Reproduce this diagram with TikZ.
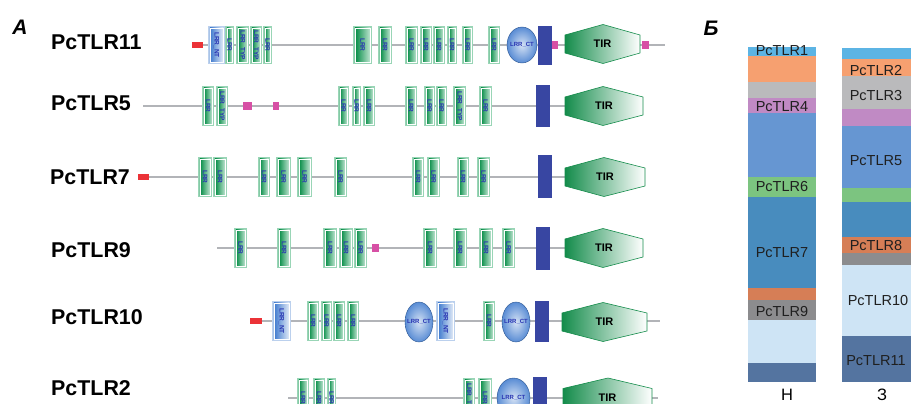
\documentclass[tikz,border=0pt]{standalone}
\usepackage{fontspec}
\setmainfont{Liberation Sans}
\definecolor{lrrg}{RGB}{0,150,72}
\definecolor{ntb}{RGB}{60,120,205}
\definecolor{tmb}{RGB}{56,70,162}
\definecolor{tirg}{RGB}{20,140,75}
\definecolor{sigred}{RGB}{235,50,55}
\definecolor{lowc}{RGB}{215,80,165}
\definecolor{bbgray}{RGB}{178,180,184}
\definecolor{dtext}{RGB}{40,52,178}
% stacked bar colours
\definecolor{cA}{RGB}{92,180,228}
\definecolor{cB}{RGB}{246,160,112}
\definecolor{cC}{RGB}{186,186,188}
\definecolor{cD}{RGB}{192,138,196}
\definecolor{cE}{RGB}{102,150,210}
\definecolor{cF}{RGB}{124,196,128}
\definecolor{cG}{RGB}{72,140,190}
\definecolor{cH}{RGB}{214,126,86}
\definecolor{cI}{RGB}{140,140,142}
\definecolor{cJ}{RGB}{206,228,245}
\definecolor{cK}{RGB}{84,116,160}

\tikzset{
  bb/.style={draw=bbgray, line width=2.6pt},
  dlab/.style={font=\fontsize{6.5}{6.5}\selectfont\bfseries, text=dtext, inner sep=0pt},
  rowlab/.style={font=\fontsize{21.4}{21.4}\selectfont\bfseries, anchor=west, inner sep=0pt},
  barlab/.style={font=\fontsize{14.5}{15}\selectfont, text=black!88, inner sep=0pt},
  panlab/.style={font=\fontsize{21}{21}\selectfont\bfseries\itshape, inner sep=0pt},
  tirlab/.style={font=\fontsize{11}{11}\selectfont\bfseries, inner sep=0pt},
}

% half height of the domain boxes of the current row
\def\hh{20}

% leucine-rich repeat box: [text]{x1}{x2}{y centre}
\newcommand\lrrbox[4][LRR]{%
  \fill[lrrg!40] (#2,#4-\hh) rectangle (#3,#4+\hh);
  \shadedraw[draw=white, line width=0.5pt, left color=lrrg!92!black, right color=lrrg!25]
    (#2+1.8,#4-\hh+1.8) rectangle (#3-1.8,#4+\hh-1.8);
  \node[dlab, rotate=-90] at ({(#2+#3)/2},#4) {#1};}
% N-terminal cap box
\newcommand\ntbox[3]{%
  \fill[ntb!35] (#1,#3-\hh) rectangle (#2,#3+\hh);
  \shadedraw[draw=white, line width=0.5pt, left color=ntb, right color=ntb!15]
    (#1+1.8,#3-\hh+1.8) rectangle (#2-1.8,#3+\hh-1.8);
  \node[dlab, rotate=-90] at ({(#1+#2)/2},#3) {LRR\_NT};}
% C-terminal cap ellipse: {cx}{cy}{rx}{ry}
\newcommand\ctell[4]{%
  \shadedraw[draw=ntb!70!black, line width=0.4pt, inner color=ntb!22, outer color=ntb!85]
    (#1,#2) ellipse [x radius=#3pt, y radius=#4pt];
  \node[dlab, font=\fontsize{6}{6}\selectfont\bfseries] at (#1,#2) {LRR\_CT};}
% transmembrane segment
\newcommand\tmbox[4]{\fill[tmb] (#1,#3) rectangle (#2,#4);}
% TIR domain: {x left}{x apex}{x right}{y centre}
\newcommand\tirhex[4]{%
  \shadedraw[draw=tirg, line width=0.6pt, left color=tirg, right color=white]
    (#1,#4-9) -- (#2,#4-19.5) -- (#3,#4-9) -- (#3,#4+9) -- (#2,#4+19.5) -- (#1,#4+9) -- cycle;
  \node[tirlab] at ({(#1+#3)/2},#4) {TIR};}
% signal peptide and low complexity segments
\newcommand\sigpep[3]{\fill[sigred] (#1,#3-3.2) rectangle (#2,#3+3.2);}
\newcommand\lowcx[3]{\fill[lowc] (#1,#3-3.6) rectangle (#2,#3+3.6);}

\begin{document}
\begin{tikzpicture}[x=1pt, y=-1pt]
\useasboundingbox (0,0) rectangle (911,404);
\clip (0,0) rectangle (911,404);
\fill[white] (0,0) rectangle (911,404);

% ---------- panel A: domain architecture ----------
\node[panlab] (pa) at (20,27) {А};

% PcTLR11
\node[rowlab] (r11) at (51,42) {PcTLR11};
\def\hh{19}
\sigpep{192}{203}{45}
\draw[bb] (203,45) -- (665,45);
\ntbox{208}{225}{45}
\lrrbox{225}{234}{45}
\lrrbox[LRR\_TYP]{236}{249}{45}
\lrrbox[LRR\_TYP]{250}{262}{45}
\lrrbox{263}{272}{45}
\lrrbox{353}{372}{45}
\lrrbox{378}{392}{45}
\lrrbox{405}{418}{45}
\lrrbox{420}{432}{45}
\lrrbox{433}{445}{45}
\lrrbox{447}{457}{45}
\lrrbox{462}{473}{45}
\lrrbox{488}{500}{45}
\ctell{522}{45}{15}{18}
\tmbox{538}{552}{26}{65}
\lowcx{552}{558}{45}
\tirhex{565}{603}{640}{44}
\lowcx{642}{649}{45}

% PcTLR5
\node[rowlab] (r5) at (51,103) {PcTLR5};
\def\hh{20}
\draw[bb] (143,106) -- (620,106);
\lrrbox{202}{214}{106}
\lrrbox[LRR\_TYP]{216}{228}{106}
\lowcx{243}{252}{106}
\lowcx{273}{279}{106}
\lrrbox{338}{349}{106}
\lrrbox{352}{361}{106}
\lrrbox{363}{375}{106}
\lrrbox{405}{417}{106}
\lrrbox{424}{435}{106}
\lrrbox{436}{447}{106}
\lrrbox[LRR\_TYP]{453}{466}{106}
\lrrbox{479}{492}{106}
\tmbox{536}{550}{85}{127}
\tirhex{565}{603}{643}{106}

% PcTLR7
\node[rowlab] (r7) at (50,177) {PcTLR7};
\sigpep{138}{149}{177}
\draw[bb] (149,177) -- (620,177);
\lrrbox{198}{212}{177}
\lrrbox{213}{227}{177}
\lrrbox{258}{270}{177}
\lrrbox{276}{291}{177}
\lrrbox{297}{312}{177}
\lrrbox{334}{347}{177}
\lrrbox{412}{424}{177}
\lrrbox{427}{440}{177}
\lrrbox{457}{469}{177}
\lrrbox{477}{490}{177}
\tmbox{538}{552}{155}{198}
\tirhex{565}{604}{645}{177}

% PcTLR9
\node[rowlab] (r9) at (51,250) {PcTLR9};
\draw[bb] (217,248) -- (620,248);
\lrrbox{234}{247}{248}
\lrrbox{277}{291}{248}
\lrrbox{323}{337}{248}
\lrrbox{339}{353}{248}
\lrrbox{354}{367}{248}
\lowcx{372}{379}{248}
\lrrbox{423}{437}{248}
\lrrbox{453}{467}{248}
\lrrbox{479}{493}{248}
\lrrbox{502}{515}{248}
\tmbox{536}{550}{227}{270}
\tirhex{565}{603}{643}{248}

% PcTLR10
\node[rowlab] (r10) at (51,317) {PcTLR10};
\sigpep{250}{262}{321}
\draw[bb] (262,321) -- (660,321);
\ntbox{272}{291}{321}
\lrrbox{307}{319}{321}
\lrrbox{321}{332}{321}
\lrrbox{333}{345}{321}
\lrrbox{347}{359}{321}
\ctell{419}{322}{14}{20}
\ntbox{436}{455}{321}
\lrrbox{483}{495}{321}
\ctell{516}{322}{14}{20}
\tmbox{535}{549}{301}{342}
\tirhex{562}{603}{647}{322}

% PcTLR2
\node[rowlab] (r2) at (51,388) {PcTLR2};
\draw[bb] (288,398) -- (658,398);
\lrrbox{297}{309}{398}
\lrrbox{313}{325}{398}
\lrrbox{327}{336}{398}
\lrrbox[LRR\_TYP]{463}{475}{398}
\lrrbox{478}{492}{398}
\ctell{513.5}{398}{16.5}{20}
\tmbox{533}{547}{377}{420}
\tirhex{563}{608}{652}{397.5}

% ---------- panel B: stacked bars ----------
\node[panlab] (pb) at (711,28) {Б};

% left bar
\fill[cA] (748,47) rectangle (816,56);
\fill[cB] (748,56) rectangle (816,82);
\fill[cC] (748,82) rectangle (816,98);
\fill[cD] (748,98) rectangle (816,113);
\fill[cE] (748,113) rectangle (816,177);
\fill[cF] (748,177) rectangle (816,197);
\fill[cG] (748,197) rectangle (816,288);
\fill[cH] (748,288) rectangle (816,300);
\fill[cI] (748,300) rectangle (816,320);
\fill[cJ] (748,320) rectangle (816,363);
\fill[cK] (748,363) rectangle (816,382);
\node[barlab] (l1) at (782,51) {PcTLR1};
\node[barlab] (l4) at (782,107) {PcTLR4};
\node[barlab] (l6) at (782,187) {PcTLR6};
\node[barlab] (l7) at (782,253) {PcTLR7};
\node[barlab] (l9) at (782,312) {PcTLR9};
\node[font=\fontsize{16.5}{17}\selectfont, inner sep=0pt] (ln) at (787,395) {Н};

% right bar
\fill[cA] (842,48) rectangle (911,59);
\fill[cB] (842,59) rectangle (911,76);
\fill[cC] (842,76) rectangle (911,109);
\fill[cD] (842,109) rectangle (911,126);
\fill[cE] (842,126) rectangle (911,188);
\fill[cF] (842,188) rectangle (911,202);
\fill[cG] (842,202) rectangle (911,237);
\fill[cH] (842,237) rectangle (911,253);
\fill[cI] (842,253) rectangle (911,265);
\fill[cJ] (842,265) rectangle (911,336);
\fill[cK] (842,336) rectangle (911,382);
\node[barlab] (q2) at (876,71) {PcTLR2};
\node[barlab] (q3) at (876,96) {PcTLR3};
\node[barlab] (q5) at (876,161) {PcTLR5};
\node[barlab] (q8) at (876,246) {PcTLR8};
\node[barlab] (q10) at (878,301) {PcTLR10};
\node[barlab] (q11) at (876,361) {PcTLR11};
\node[font=\fontsize{16.5}{17}\selectfont, inner sep=0pt] (lz) at (882,395) {З};
\end{tikzpicture}
\end{document}
